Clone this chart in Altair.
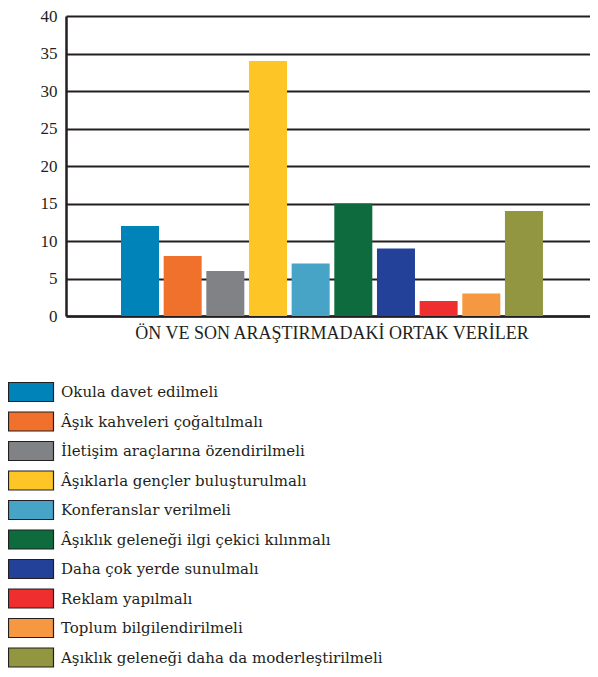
import altair as alt
import pandas as pd

group = "ÖN VE SON ARAŞTIRMADAKİ ORTAK VERİLER"
items = [
    "Okula davet edilmeli",
    "Âşık kahveleri çoğaltılmalı",
    "İletişim araçlarına özendirilmeli",
    "Âşıklarla gençler buluşturulmalı",
    "Konferanslar verilmeli",
    "Âşıklık geleneği ilgi çekici kılınmalı",
    "Daha çok yerde sunulmalı",
    "Reklam yapılmalı",
    "Toplum bilgilendirilmeli",
    "Aşıklık geleneği daha da moderleştirilmeli",
]
values = [12, 8, 6, 34, 7, 15, 9, 2, 3, 14]
colors = ["#0083b8", "#f0712c", "#808285", "#fec526", "#48a4c7",
          "#0e6b3d", "#234199", "#ee2e2f", "#f59841", "#929640"]
y_ticks = [0, 5, 10, 15, 20, 25, 30, 35, 40]

df = pd.DataFrame({"grup": [group] * len(items), "oneri": items, "deger": values})

INK = "#231f20"

chart = alt.Chart(df).mark_bar().encode(
    x=alt.X("grup:N", title=None,
            scale=alt.Scale(paddingInner=0, paddingOuter=0.1209, align=0.539),
            axis=alt.Axis(labelAngle=0, labelLimit=0, ticks=False, labelPadding=8,
                          labelFontSize=18, labelFont="Liberation Serif", labelColor=INK,
                          domainColor=INK, domainWidth=2.5)),
    xOffset=alt.XOffset("oneri:N", sort=items,
                        scale=alt.Scale(paddingInner=0.109, paddingOuter=0)),
    y=alt.Y("deger:Q", title=None,
            scale=alt.Scale(domain=[0, 40], nice=False),
            axis=alt.Axis(values=y_ticks, ticks=False, labelPadding=9,
                          labelFontSize=17, labelFont="Liberation Serif", labelColor=INK,
                          domainColor=INK, domainWidth=2.5,
                          grid=True, gridColor=INK, gridWidth=2)),
    color=alt.Color("oneri:N", sort=items,
                    scale=alt.Scale(domain=items, range=colors),
                    legend=alt.Legend(title=None, orient="none", legendX=-46, legendY=365,
                                      direction="vertical",
                                      symbolType="M-2.25,-0.95H2.25V0.95H-2.25Z",
                                      symbolSize=400, symbolStrokeColor=INK,
                                      symbolStrokeWidth=1.2, symbolOpacity=1,
                                      labelFont="DejaVu Serif", labelFontSize=15,
                                      labelColor=INK, labelOffset=19, labelLimit=0,
                                      rowPadding=5.5, padding=0)),
).properties(
    width=524, height=300,
    autosize=alt.AutoSizeParams(type="none"),
    padding={"left": 58, "top": 8, "right": 0, "bottom": 353},
).configure_view(strokeWidth=0)

chart.save("out.html", embed_options={"renderer": "svg", "actions": False})
